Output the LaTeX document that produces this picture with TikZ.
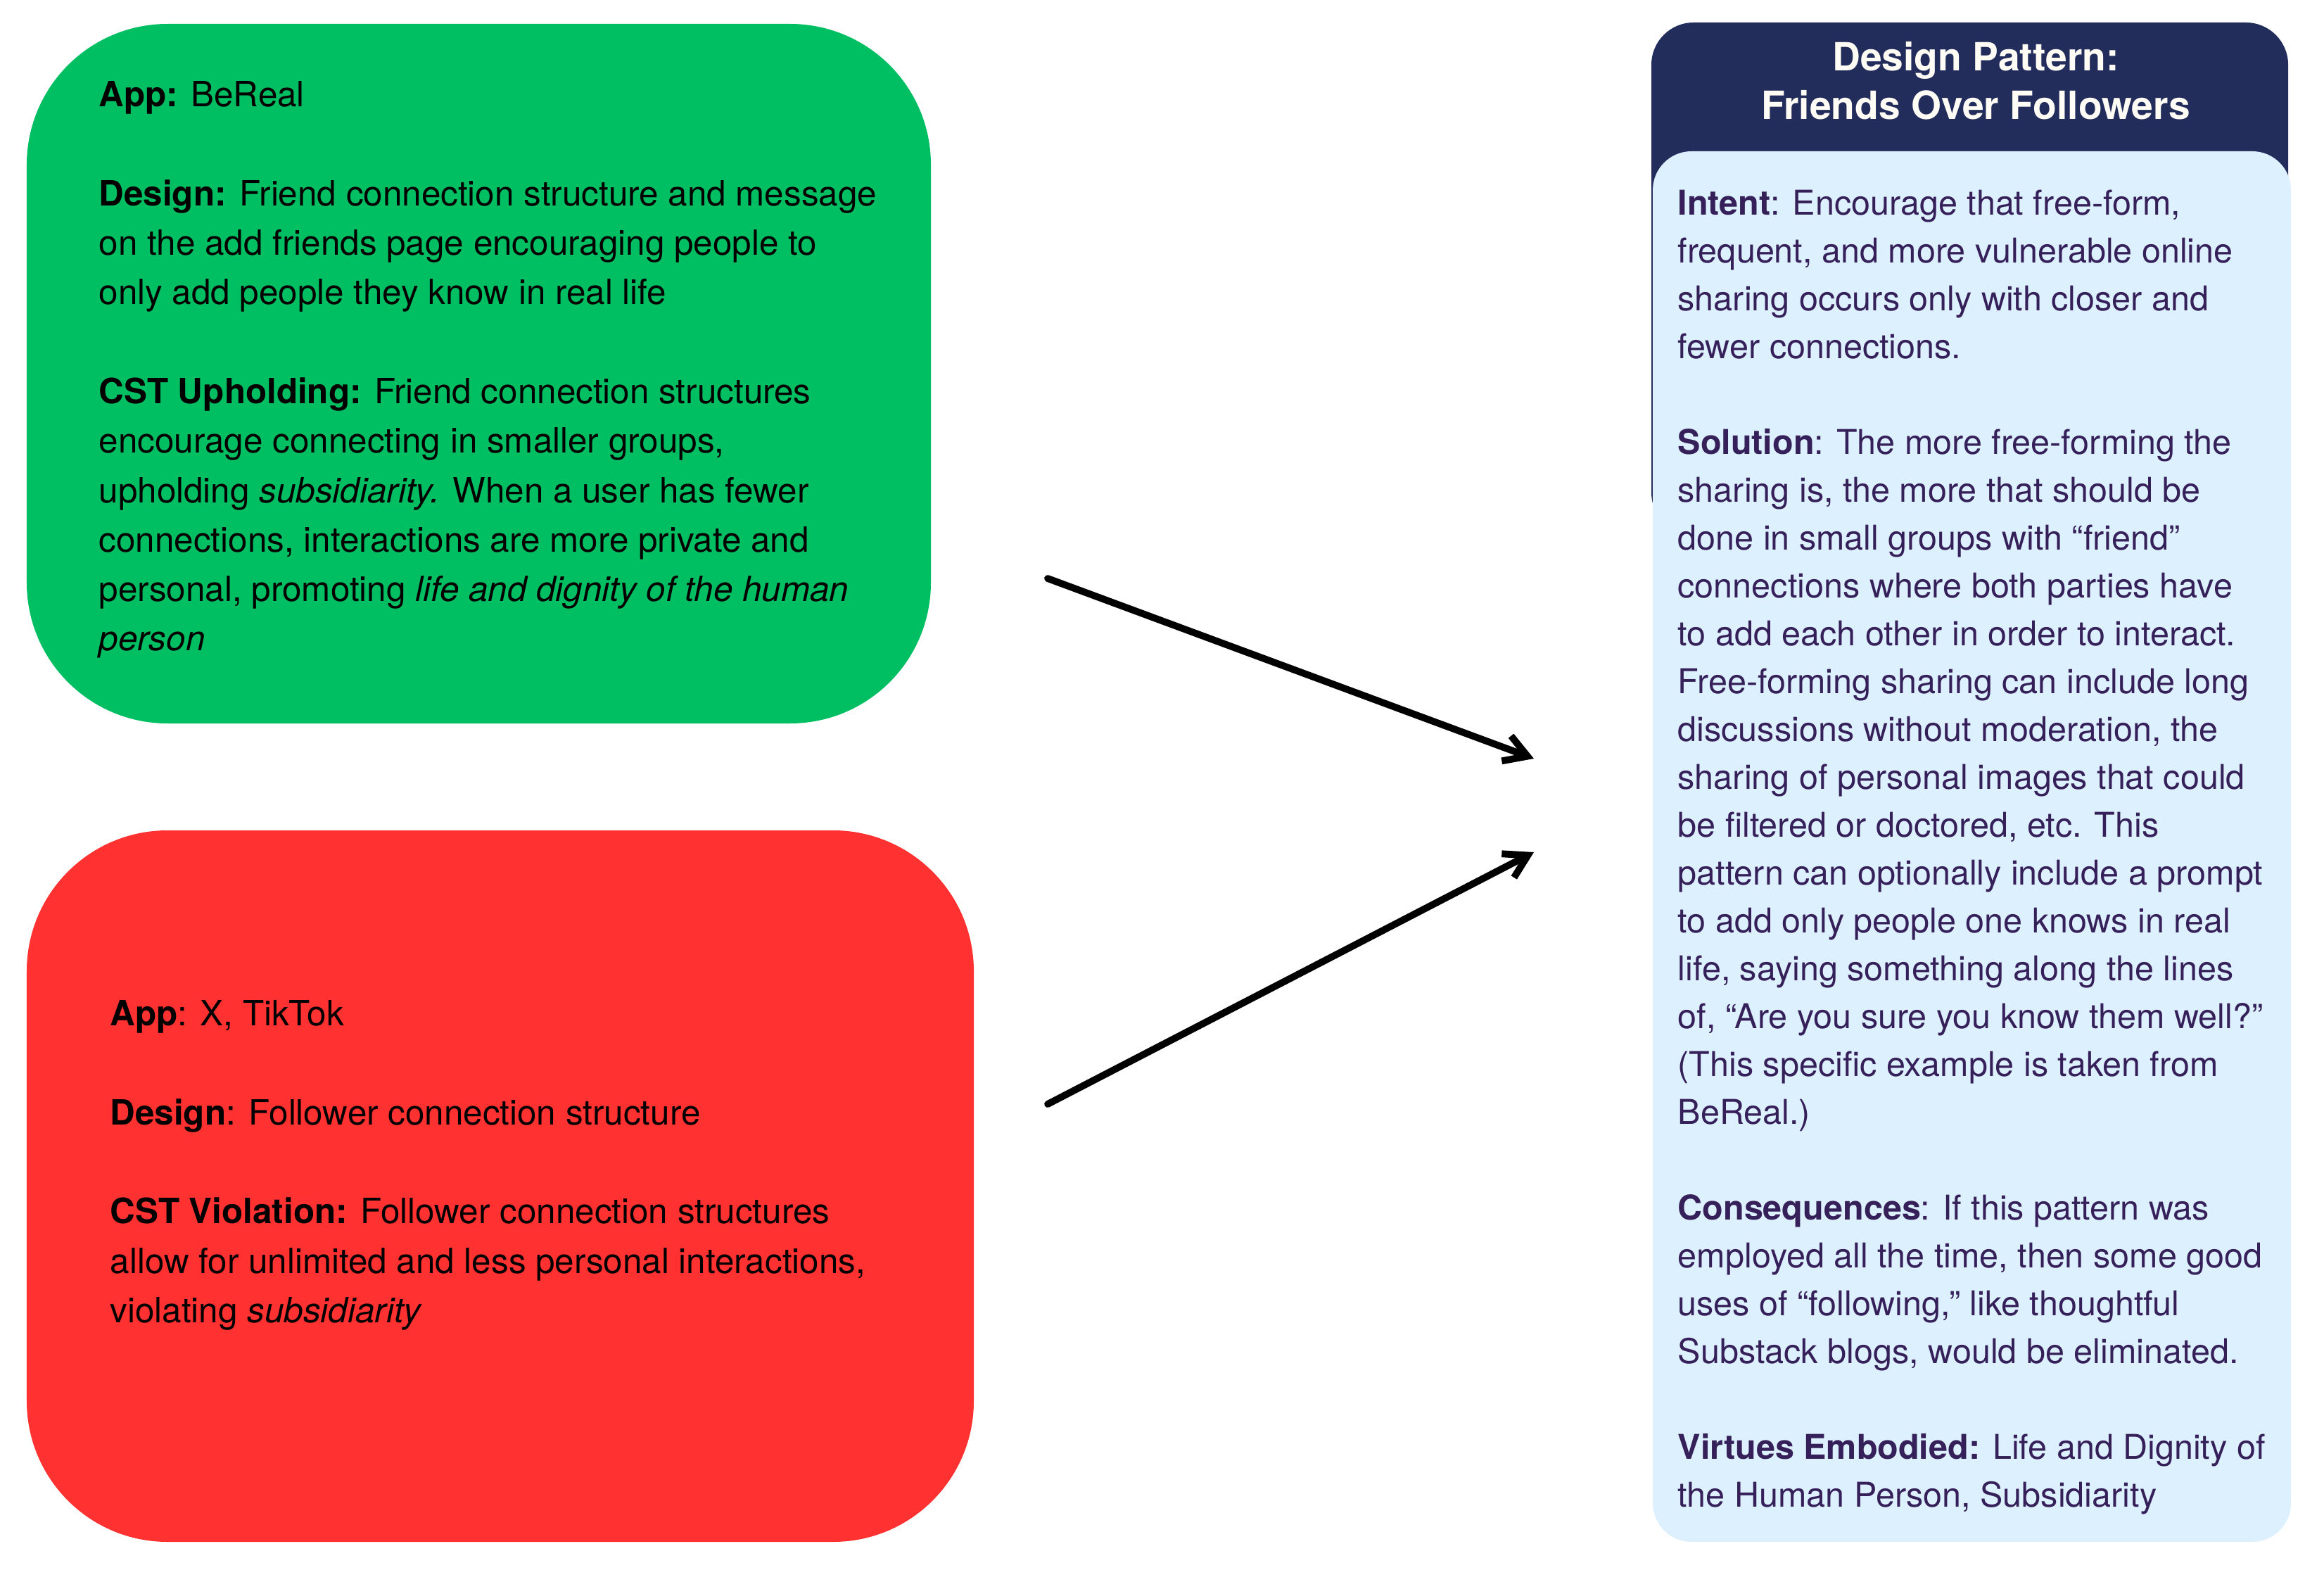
\documentclass[tikz,border=0pt]{standalone}
\usepackage{fontspec}
\setmainfont{TeX Gyre Heros}
\usepackage{tikz}
\usetikzlibrary{positioning, arrows.meta}

\definecolor{appgreen}{HTML}{00BF63}
\definecolor{appred}{HTML}{FF3131}
\definecolor{headnavy}{HTML}{232D5B}
\definecolor{bodyblue}{HTML}{DDF0FE}
\definecolor{inkpurple}{HTML}{35205A}
\definecolor{headwhite}{HTML}{FFFBF5}

\begin{document}
\begin{tikzpicture}[>={Straight Barb[length=3.2mm, width=3.8mm]},
    card/.style={rectangle, rounded corners=2cm, inner sep=0pt},
    body/.style={inner sep=0pt, anchor=north west, align=left,
                 font=\fontsize{14.05}{20.0}\selectfont},
    pointer/.style={->, line width=2.8pt, line cap=round, line join=round}]
    \useasboundingbox (0,0) rectangle (33.03,22.30);
    % left cards
    \node[card, fill=appgreen, minimum width=12.85cm, minimum height=9.94cm]
      (bereal) at (6.805,16.99) {};
    \node[card, fill=appred, minimum width=13.46cm, minimum height=10.11cm]
      (xtiktok) at (7.11,5.445) {};
    \node[body] (berealtxt) at (1.40,21.15) {%
      \textbf{App:} BeReal\\[\baselineskip]
      \textbf{Design:} Friend connection structure and message\\
      on the add friends page encouraging people to\\
      only add people they know in real life\\[\baselineskip]
      \textbf{CST Upholding:} Friend connection structures\\
      encourage connecting in smaller groups,\\
      upholding \textit{subsidiarity.} When a user has fewer\\
      connections, interactions are more private and\\
      personal, promoting \textit{life and dignity of the human}\\
      \textit{person}};
    \node[body] (xtiktoktxt) at (1.56,8.09) {%
      \textbf{App}: X, TikTok\\[\baselineskip]
      \textbf{Design}: Follower connection structure\\[\baselineskip]
      \textbf{CST Violation:} Follower connection structures\\
      allow for unlimited and less personal interactions,\\
      violating \textit{subsidiarity}};
    % pattern card
    \node[rectangle, rounded corners=0.6cm, fill=headnavy,
      minimum width=9.05cm, minimum height=7.28cm] (head) at (27.995,18.34) {};
    \node[rectangle, rounded corners=0.55cm, fill=bodyblue,
      minimum width=9.07cm, minimum height=19.76cm] (pattern) at (28.025,10.27) {};
    \node[inner sep=0pt, anchor=north, align=center, text=headwhite,
      font=\fontsize{15.7}{19.5}\selectfont\bfseries] (title) at (28.08,21.71)
      {Design Pattern:\\Friends Over Followers};
    \node[body, text=inkpurple, font=\fontsize{13.8}{19.35}\selectfont]
      (patterntxt) at (23.84,19.61) {%
      \textbf{Intent}: Encourage that free-form,\\
      frequent, and more vulnerable online\\
      sharing occurs only with closer and\\
      fewer connections.\\[\baselineskip]
      \textbf{Solution}: The more free-forming the\\
      sharing is, the more that should be\\
      done in small groups with “friend”\\
      connections where both parties have\\
      to add each other in order to interact.\\
      Free-forming sharing can include long\\
      discussions without moderation, the\\
      sharing of personal images that could\\
      be filtered or doctored, etc. This\\
      pattern can optionally include a prompt\\
      to add only people one knows in real\\
      life, saying something along the lines\\
      of, “Are you sure you know them well?”\\
      (This specific example is taken from\\
      BeReal.)\\[\baselineskip]
      \textbf{Consequences}: If this pattern was\\
      employed all the time, then some good\\
      uses of “following,” like thoughtful\\
      Substack blogs, would be eliminated.\\[\baselineskip]
      \textbf{Virtues Embodied:} Life and Dignity of\\
      the Human Person, Subsidiarity};
    % arrows
    \coordinate (uptail) at (14.89,14.08);
    \coordinate (uptip) at (21.80,11.52);
    \coordinate (lowtail) at (14.89,6.61);
    \coordinate (lowtip) at (21.80,10.19);
    \draw[pointer] (uptail) -- (uptip);
    \draw[pointer] (lowtail) -- (lowtip);
\end{tikzpicture}
\end{document}
